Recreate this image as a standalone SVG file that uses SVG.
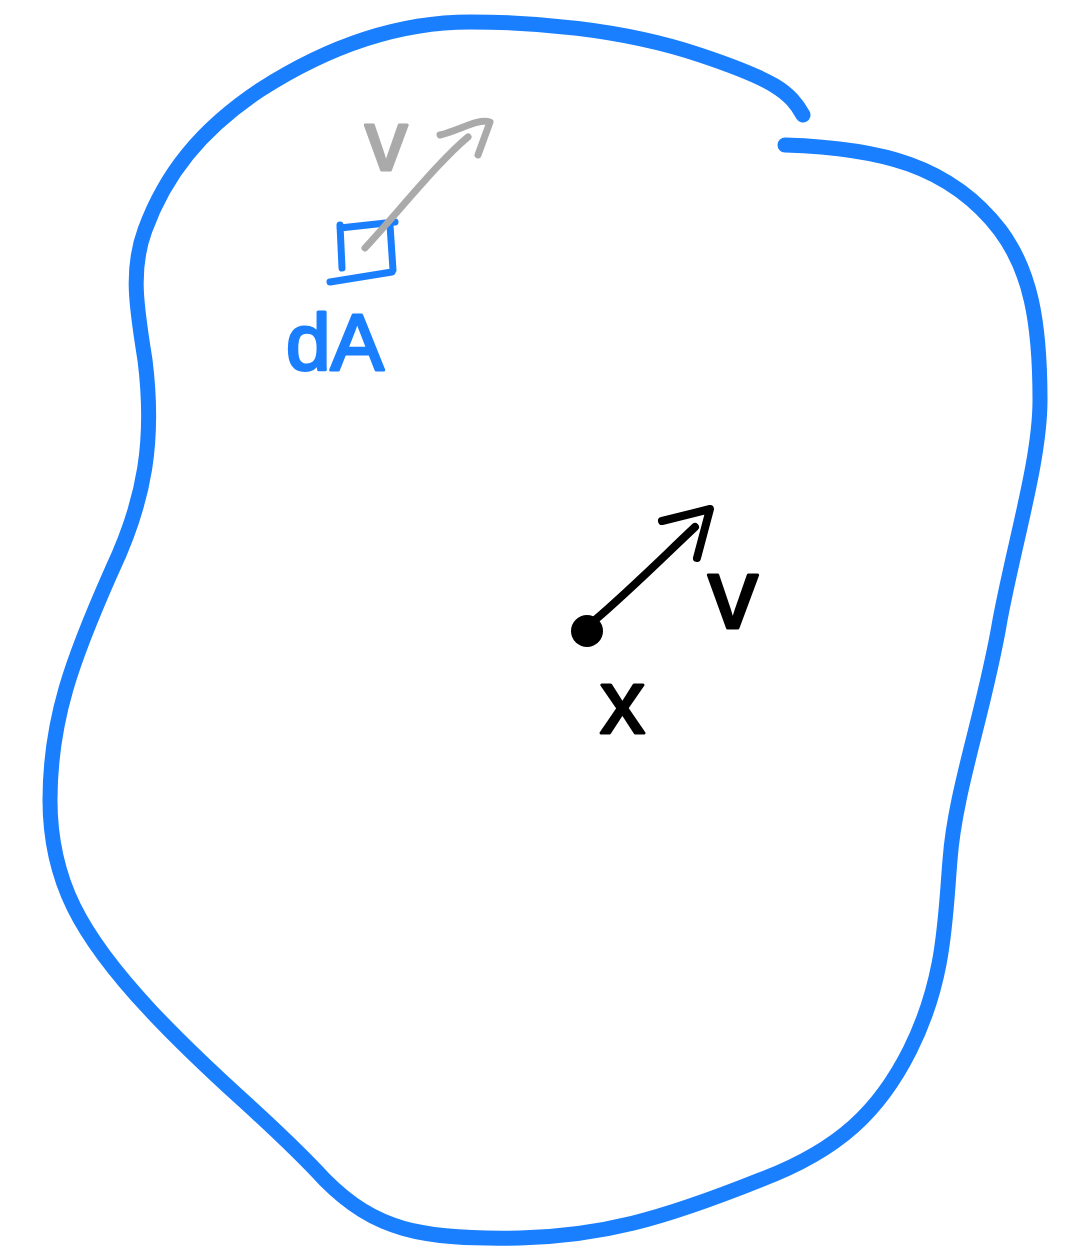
<svg xmlns="http://www.w3.org/2000/svg" width="1081" height="1246" viewBox="0 0 1081 1246">
<style>
.blob{fill:none;stroke:#1a7fff;stroke-width:15;stroke-linecap:round;stroke-linejoin:round}
.blue{fill:none;stroke:#1a7fff;stroke-width:7;stroke-linecap:round;stroke-linejoin:round}
.gray{fill:none;stroke:#aaaaaa;stroke-width:7;stroke-linecap:round;stroke-linejoin:round}
.blk{fill:none;stroke:#000;stroke-width:8;stroke-linecap:round;stroke-linejoin:round}
.lbl{font-family:"Liberation Sans",Arial,sans-serif;stroke-width:3;stroke-linejoin:round}
</style>
<rect width="1081" height="1246" fill="#fff"/>
<g id="region">
<path class="blob" d="M803,115 C790,92 775,80 700,55 C620,28 530,22 470,22 C400,22 330,45 260,90 C200,130 165,175 145,230 C130,270 137,310 145,360 C155,440 145,500 112,570 C72,660 50,720 50,800 C50,880 80,935 150,1010 C220,1085 265,1115 325,1180 C375,1230 420,1240 520,1238 C600,1236 660,1220 760,1180 C840,1150 880,1110 910,1050 C945,980 945,920 950,860 C955,790 985,710 1000,620 C1015,540 1040,460 1040,400 C1040,320 1030,270 1000,230 C950,165 880,148 785,145"/>
</g>
<g id="dA">
<path class="blue" d="M340,225 L342,268 M340,228 L395,222 M390,225 L393,270 M330,282 L392,272"/>
<text class="lbl" x="286" y="370" font-size="80" fill="#1a7fff" stroke="#1a7fff">dA</text>
</g>
<g id="x">
<circle cx="587" cy="631" r="16" fill="#000"/>
<text class="lbl" x="600" y="733" font-size="90" fill="#000" stroke="#000">x</text>
</g>
<g id="connectors">
<g id="v-gray">
<path class="gray" d="M365,248 C400,210 440,160 468,137 M440,135 C460,130 478,118 490,122 L478,155"/>
<text class="lbl" x="365" y="170" font-size="85" fill="#aaaaaa" stroke="#aaaaaa">v</text>
</g>
<g id="v-black">
<path class="blk" d="M595,620 C630,590 660,560 695,527 M662,521 L710,509 L697,558"/>
<text class="lbl" x="708" y="628" font-size="100" fill="#000" stroke="#000">v</text>
</g>
</g>
</svg>
